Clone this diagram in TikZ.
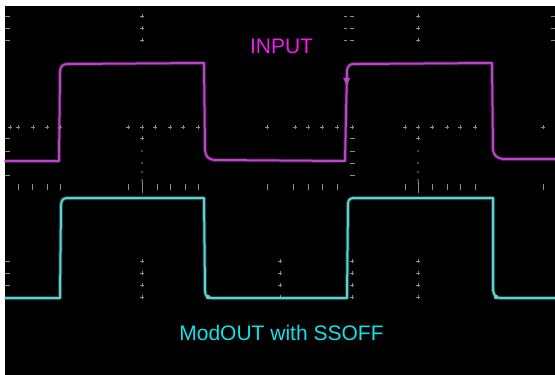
\documentclass[tikz,border=0pt]{standalone}
\usepackage{fontspec}
\setmainfont{Liberation Sans}
\definecolor{magtrace}{HTML}{B846C6}
\definecolor{magtext}{HTML}{F21CF2}
\definecolor{cyantrace}{HTML}{5CD2D2}
\definecolor{cyantext}{HTML}{10E2EA}
\definecolor{gridc}{HTML}{8C8C8C}
\begin{document}
\begin{tikzpicture}[x=1pt,y=-1pt,
  tick/.style={gridc,line width=0.9pt},
  trace/.style={line width=2pt,line join=round,line cap=round},
  glow/.style={line width=4pt,line join=round,opacity=0.3},
  label/.style={font=\fontsize{21}{24}\selectfont,anchor=base,inner sep=0pt}]
\useasboundingbox (0,0) rectangle (555,375);
\fill[white] (0,0) rectangle (555,375);
\fill[black] (5,6) rectangle (555,375);
% graticule: left edge ticks
\foreach \y in {16,28,40,138,151,175,261,273,285}
  \draw[tick] (5,\y) -- (10,\y);
% right edge ticks
\foreach \y in {16,28,40}
  \draw[tick] (551,\y) -- (555,\y);
% crosshairs near top
\foreach \x in {142,418} \foreach \y in {16,28,40}
  {\draw[tick] (\x-2,\y) -- (\x+2,\y); \draw[tick] (\x,\y-2) -- (\x,\y+2);}
\foreach \y in {16,28,40}
  {\draw[tick] (344,\y) -- (347,\y); \draw[tick] (350,\y) -- (354,\y);}
% centre row
\foreach \x in {10,18,33,47,60,128,142,155,170,183,198,267,295,308,322,337,352,405,418,432,447,460,475,543}
  {\draw[tick] (\x-2,127) -- (\x+2,127); \draw[tick] (\x,125) -- (\x,129);}
% dotted verticals below the centre row
\foreach \x in {142,418} {
  \draw[tick] (\x-2,138) -- (\x+2,138); \draw[tick] (\x,136) -- (\x,140);
  \foreach \y in {151,163,172,180} \fill[gridc] (\x,\y) circle (0.8);}
\foreach \y in {138,151,163,175}
  {\draw[tick] (350,\y) -- (355,\y);}
% tick row
\foreach \x in {18,32,47,60,128,157,170,185,198,267,293,308,322,337,405,432,447,460,475,543}
  \draw[tick] (\x,184) -- (\x,190);
\foreach \x in {142,418}
  \draw[tick] (\x,181) -- (\x,193);
% lower crosshairs
\foreach \x in {142,280,418,352} \foreach \y in {261,273,285,297}
  {\draw[tick] (\x-2,\y) -- (\x+2,\y); \draw[tick] (\x,\y-2) -- (\x,\y+2);}
% INPUT trace
\def\inputpath{(5,161) -- (59,161) -- (60,72) .. controls (60,66) and (63,64) .. (68,64) -- (204,63) -- (205,150) .. controls (206,157) and (208,159) .. (214,160) -- (345,161) -- (347,70) .. controls (348,65) and (350,64) .. (355,64) -- (492,63) -- (493,150) .. controls (494,156) and (497,158) .. (503,159) -- (555,159)}
\draw[glow,magtrace] \inputpath;
\draw[trace,magtrace] \inputpath;
\fill[magtrace] (343,78) -- (350,78) -- (347,86) -- cycle;
% ModOUT trace
\def\outpath{(5,298) -- (60,298) -- (61,206) .. controls (61,200) and (63,198) .. (68,198) -- (204,198) -- (205,290) .. controls (205,296) and (207,298) .. (212,298) -- (347,298) -- (348,204) .. controls (348,200) and (350,198) .. (354,198) -- (493,198) -- (493,290) .. controls (494,296) and (496,298) .. (501,298) -- (555,298)}
\draw[glow,cyantrace] \outpath;
\draw[trace,cyantrace] \outpath;
\fill[cyantrace] (208,297) circle (2.2);
\fill[cyantrace] (496,297) circle (2.2);
% labels
\node[label,text=magtext] (input) at (281.5,53) {INPUT};
\node[label,text=cyantext] (modout) at (281.5,340) {ModOUT with SSOFF};
\end{tikzpicture}
\end{document}
